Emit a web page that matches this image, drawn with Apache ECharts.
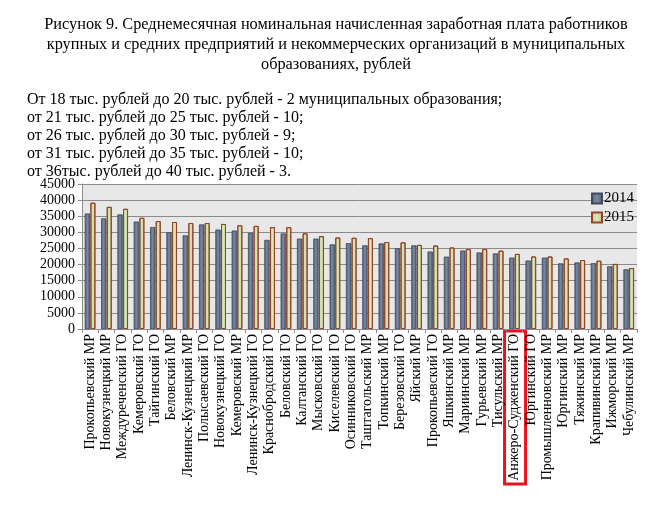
<!DOCTYPE html>
<html>
<head>
<meta charset="utf-8">
<script src="https://cdn.jsdelivr.net/npm/echarts@6/dist/echarts.min.js"></script>
<style>
  html, body { margin: 0; padding: 0; background: #fff; }
  #main { width: 670px; height: 506px; }
</style>
</head>
<body>
<div id="main"></div>
<script>
// муниципальные образования
var categories = [
  "Прокопьевский МР", "Новокузнецкий МР", "Междуреченский ГО", "Кемеровский ГО",
  "Тайгинский ГО", "Беловский МР", "Ленинск-Кузнецкий МР", "Полысаевский ГО",
  "Новокузнецкий ГО", "Кемеровский МР", "Ленинск-Кузнецкий ГО", "Краснобродский ГО",
  "Беловский ГО", "Калтанский ГО", "Мысковский ГО", "Киселевский ГО",
  "Осинниковский ГО", "Таштагольский МР", "Топкинский МР", "Березовский ГО",
  "Яйский МР", "Прокопьевский ГО", "Яшкинский МР", "Мариинский МР",
  "Гурьевский МР", "Тисульский МР", "Анжеро-Судженский ГО", "Юргинский ГО",
  "Промышленновский МР", "Юргинский МР", "Тяжинский МР", "Крапивинский МР",
  "Ижморский МР", "Чебулинский МР"
];

var values2014 = [
  35800, 34300, 35500, 33300, 31600, 30000, 29000, 32400, 30800, 30500,
  29800, 27600, 29600, 28000, 28000, 26200, 26600, 25900, 26500, 25000,
  25900, 24000, 22400, 24300, 23700, 23400, 22100, 21200, 22100, 20300,
  20600, 20400, 19400, 18500
];

var values2015 = [
  39200, 37900, 37300, 34500, 33500, 33200, 32900, 32900, 32600, 32200,
  32000, 31600, 31600, 29700, 28800, 28400, 28300, 28200, 27000, 26900,
  26100, 25900, 25300, 24800, 24800, 24300, 23300, 22500, 22500, 21900,
  21400, 21200, 20200, 18900
];

// выделенное образование (красная рамка)
var highlighted = "Анжеро-Судженский ГО";

var serif = "'Liberation Serif', 'DejaVu Serif', serif";

var myChart = echarts.init(document.getElementById("main"));

var option = {
  animation: false,
  textStyle: { fontFamily: serif, color: "#000" },
  title: [
    {
      text: "Рисунок 9. Среднемесячная номинальная начисленная заработная плата работников\nкрупных и средних предприятий и некоммерческих организаций в муниципальных\nобразованиях, рублей",
      left: 331,
      top: 10,
      textAlign: "center",
      textStyle: { fontFamily: serif, fontSize: 16.3, fontWeight: "normal", color: "#000", lineHeight: 20 }
    },
    {
      text: "От 18 тыс. рублей до 20 тыс. рублей - 2 муниципальных образования;\nот 21 тыс. рублей до 25 тыс. рублей - 10;\nот 26 тыс. рублей до 30 тыс. рублей - 9;\nот 31 тыс. рублей до 35 тыс. рублей - 10;\nот 36тыс. рублей до 40 тыс. рублей - 3.",
      left: 22,
      top: 86,
      textStyle: { fontFamily: serif, fontSize: 16, fontWeight: "normal", color: "#000", lineHeight: 18 }
    }
  ],
  legend: {
    orient: "vertical",
    right: 31,
    top: 186,
    icon: "rect",
    itemWidth: 10,
    itemHeight: 10,
    itemGap: 4,
    textStyle: { fontFamily: serif, fontSize: 15, color: "#000", padding: [0, 0, 0, -3] },
    data: ["2014", "2015"]
  },
  grid: {
    left: 82,
    right: 33,
    top: 184,
    bottom: 177,
    show: true,
    backgroundColor: "#e8e8e8",
    borderWidth: 0
  },
  xAxis: {
    type: "category",
    data: categories,
    axisLine: { lineStyle: { color: "#8c8c8c", width: 1 } },
    axisTick: { show: true, length: 4, lineStyle: { color: "#8c8c8c" } },
    axisLabel: {
      interval: 0,
      rotate: 90,
      margin: 5,
      fontFamily: serif,
      fontSize: 14,
      color: "#000"
    }
  },
  yAxis: {
    type: "value",
    min: 0,
    max: 45000,
    interval: 5000,
    axisLine: { show: true, lineStyle: { color: "#8c8c8c" } },
    axisTick: { show: true, length: 4, lineStyle: { color: "#8c8c8c" } },
    splitLine: { lineStyle: { color: "#8a8a8a", width: 1 } },
    axisLabel: {
      fontFamily: serif,
      fontSize: 14,
      color: "#000",
      margin: 7,
      formatter: function (v) { return String(v); }
    }
  },
  series: [
    {
      name: "2014",
      type: "bar",
      data: values2014,
      barWidth: 5,
      barGap: "10%",
      itemStyle: {
        color: new echarts.graphic.LinearGradient(0, 0, 1, 0, [
          { offset: 0, color: "#55647c" },
          { offset: 0.5, color: "#7b889e" },
          { offset: 1, color: "#4d5a70" }
        ]),
        borderColor: "#3d4a60",
        borderWidth: 0.5
      }
    },
    {
      name: "2015",
      type: "bar",
      data: values2015,
      barWidth: 5,
      itemStyle: {
        color: new echarts.graphic.LinearGradient(0, 0, 1, 0, [
          { offset: 0, color: "#b9cc8e" },
          { offset: 0.5, color: "#d9e7b8" },
          { offset: 1, color: "#b4c788" }
        ]),
        borderColor: "#93452a",
        borderWidth: 1
      }
    }
  ]
};

myChart.setOption(option);

// красная рамка вокруг подписи выделенного образования
var px = myChart.convertToPixel({ xAxisIndex: 0 }, highlighted);
var axisY = myChart.convertToPixel({ yAxisIndex: 0 }, 0);
myChart.setOption({
  graphic: [
    {
      type: "rect",
      shape: { x: px - 10, y: axisY + 2, width: 21, height: 153 },
      style: { fill: "none", stroke: "#e8131b", lineWidth: 3 }
    }
  ]
});
</script>
</body>
</html>
